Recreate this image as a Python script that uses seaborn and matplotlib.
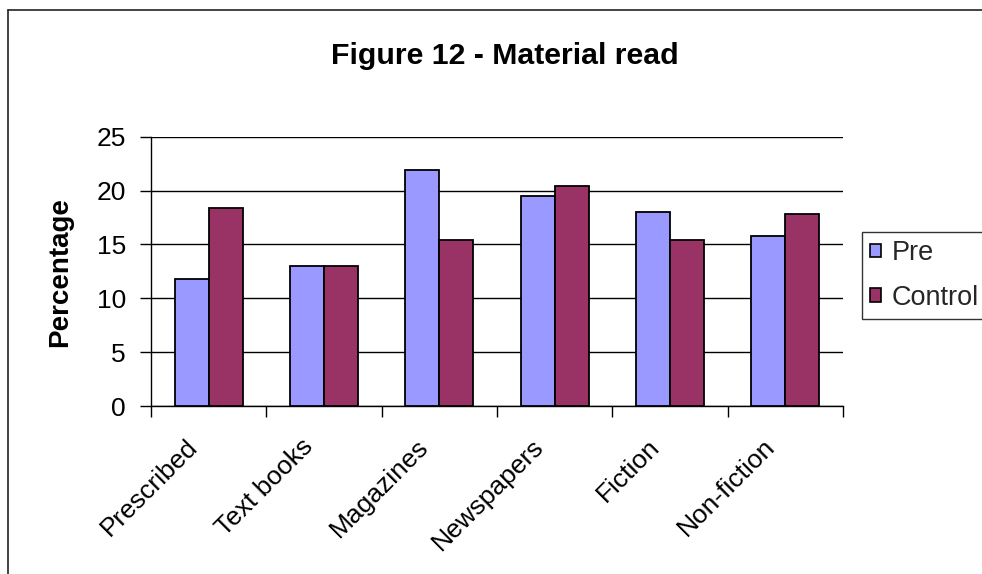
import matplotlib
matplotlib.use("Agg")
import matplotlib.pyplot as plt
import matplotlib.transforms as mtransforms
from matplotlib.lines import Line2D
from matplotlib.patches import Patch
import seaborn as sns
import pandas as pd

# Share of respondents reading each type of material
categories = ["Prescribed", "Text books", "Magazines", "Newspapers", "Fiction", "Non-fiction"]
pre_values = [11.8, 13.0, 21.9, 19.5, 18.0, 15.8]
control_values = [18.4, 13.0, 15.4, 20.4, 15.4, 17.8]
series_names = ["Pre", "Control"]
y_ticks = [0, 5, 10, 15, 20, 25]

palette = {"Pre": "#9999FF", "Control": "#993366"}

df = pd.DataFrame({
    "Material": categories * 2,
    "Group": [series_names[0]] * len(categories) + [series_names[1]] * len(categories),
    "Percentage": pre_values + control_values,
})

sns.set_theme(style="white")
plt.rcParams["font.family"] = ["Liberation Sans", "DejaVu Sans"]

W, H = 982, 574
fig = plt.figure(figsize=(W / 100, H / 100), dpi=100)
ax = fig.add_axes([151 / W, 1 - 406 / H, (843 - 151) / W, (406 - 136.7) / H])

sns.barplot(data=df, x="Material", y="Percentage", hue="Group",
            hue_order=series_names, order=categories, palette=palette,
            width=0.59, edgecolor="black", linewidth=1.3, saturation=1,
            legend=False, ax=ax, zorder=3)

ax.set_xlim(-0.5, len(categories) - 0.5)
ax.set_ylim(0, 25)
ax.set_yticks(y_ticks)
ax.set_yticklabels([str(t) for t in y_ticks], fontsize=19)
ax.yaxis.grid(True, color="black", linewidth=1.0, zorder=0)
ax.set_axisbelow(True)

# Category labels at centres, tick marks at category boundaries
ax.set_xticks(range(len(categories)))
ax.set_xticklabels(categories, rotation=45, ha="right", rotation_mode="anchor", fontsize=19)
ax.set_xticks([i - 0.5 for i in range(len(categories) + 1)], minor=True)
ax.tick_params(axis="x", which="major", length=0, pad=14, colors="black")
ax.tick_params(axis="x", which="minor", length=8, width=1.0, color="black", direction="out", bottom=True)
ax.tick_params(axis="y", which="major", length=8, width=1.0, color="black", direction="out",
               left=True, pad=10, labelcolor="black")

shift = mtransforms.ScaledTranslation(-23 / 100, -9 / 100, fig.dpi_scale_trans)
for lbl in ax.get_xticklabels():
    lbl.set_transform(lbl.get_transform() + shift)

for side in ["top", "right"]:
    ax.spines[side].set_visible(False)
for side in ["left", "bottom"]:
    ax.spines[side].set_visible(True)
    ax.spines[side].set_color("black")
    ax.spines[side].set_linewidth(1.0)

ax.set_xlabel("")
ax.set_ylabel("")
fig.text(60 / W, 1 - 272 / H, "Percentage", rotation=90, ha="center", va="center",
         fontsize=20, fontweight="bold", color="black")
fig.text(505 / W, 1 - 56 / H, "Figure 12 - Material read", ha="center", va="center",
         fontsize=21.8, fontweight="bold", color="black")

handles = [Patch(facecolor=palette[n], edgecolor="black", linewidth=1.2, label=n) for n in series_names]
leg = fig.legend(handles=handles, loc="upper left", bbox_to_anchor=(862 / W, 1 - 232 / H),
                 frameon=True, fancybox=False, fontsize=19.5, handlelength=0.4, handleheight=0.4,
                 handletextpad=0.4, borderpad=0.3, labelspacing=0.68, borderaxespad=0)
leg.get_frame().set_edgecolor("black")
leg.get_frame().set_linewidth(1.0)

# Chart area border
fig.add_artist(Line2D([8 / W, 8 / W], [0, 1 - 10 / H], color="#222222", linewidth=1.2))
fig.add_artist(Line2D([8 / W, 1], [1 - 10 / H, 1 - 10 / H], color="#222222", linewidth=1.2))

fig.savefig("out.png", dpi=100, facecolor="white")
